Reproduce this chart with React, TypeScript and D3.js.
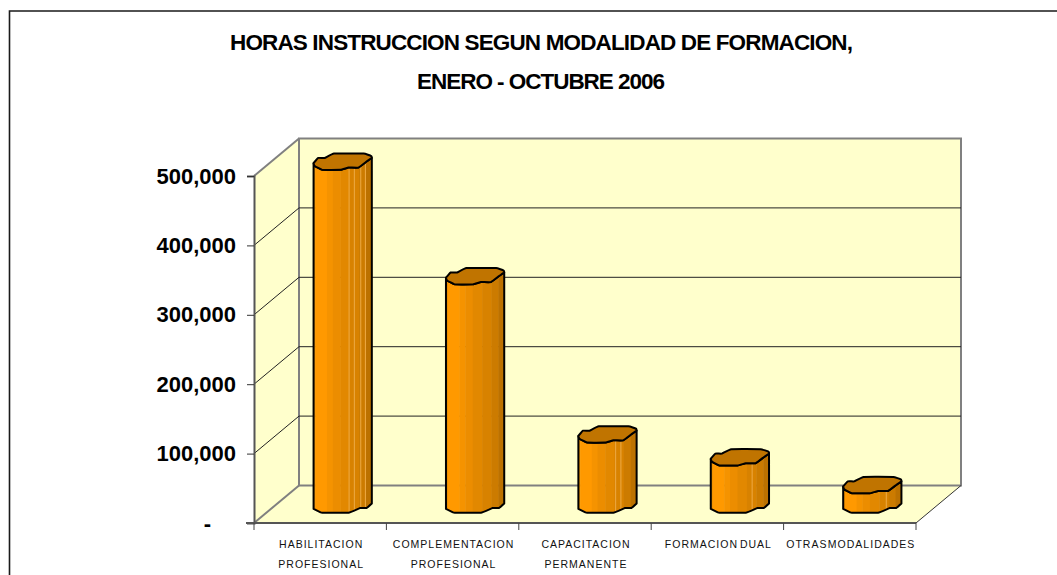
import { useEffect, useRef } from "react";
import * as d3 from "d3";

const categories = [
  "HABILITACION PROFESIONAL",
  "COMPLEMENTACION PROFESIONAL",
  "CAPACITACION PERMANENTE",
  "FORMACION DUAL",
  "OTRAS MODALIDADES",
];
const categoryLines = [
  ["HABILITACION", "PROFESIONAL"],
  ["COMPLEMENTACION", "PROFESIONAL"],
  ["CAPACITACION", "PERMANENTE"],
  ["FORMACION DUAL"],
  ["OTRAS MODALIDADES"],
];
const hours = [494000, 329000, 101000, 68000, 28000];
const yTicks = [0, 100000, 200000, 300000, 400000, 500000];
const titleLines = ["HORAS INSTRUCCION SEGUN MODALIDAD DE FORMACION,", "ENERO - OCTUBRE 2006"];

// cap outline of the hand-cut cylinder: [across bar 0-1, front to back 0-1]
const capFront: [number, number][] = [
  [0, 0.41], [0.02, 0.24], [0.15, 0], [0.46, 0], [0.6, 0.14], [0.77, 0.14], [0.91, 0.51], [1, 0.73],
];
const capBack: [number, number][] = [[0.99, 0.85], [0.86, 1], [0.35, 1], [0.19, 0.73], [0.08, 0.73]];
// the foot of the bar is a little flatter than the cap
const footFront: [number, number][] = [
  [0, 0.23], [0.12, 0.02], [0.15, 0], [0.6, 0], [0.8, 0.29], [0.91, 0.29], [1, 0.57],
];
// vertical shading strips
const stripStops = [0, 0.03, 0.23, 0.33, 0.46, 0.62, 0.78, 0.9, 1];
const stripColors = ["#E48C00", "#FF9900", "#F59300", "#EC8D00", "#E28800", "#D88200", "#CC7B00", "#BC7100"];
// lighter seams between the strips, per bar
const seams = [[0.61, 0.7, 0.81, 0.89], [], [0.64, 0.73], [0.71], [0.74]];

const width = 1057;
const height = 575;
const front = { left: 254, right: 916, top: 176, bottom: 523 };
const depth = { x: 45, y: 37.5 };

export default function App() {
  const svgRef = useRef<SVGSVGElement>(null);

  useEffect(() => {
    if (!svgRef.current) return;
    const svg = d3.select(svgRef.current);
    svg.selectAll("*").remove();

    const x = d3.scaleBand<string>().domain(categories).range([front.left, front.right]);
    const y = d3.scaleLinear().domain([0, 500000]).range([front.bottom, front.top]);

    const barWidth = x.bandwidth() * 0.44;
    const capDepth = 16.3;
    const baseY = front.bottom - 10.3;
    const line = d3.line();
    const edge = d3.line().curve(d3.curveCardinal.tension(0.75));
    const ring = d3.line().curve(d3.curveCardinalClosed.tension(0.75));

    // frame, runs off the page on the right and bottom
    svg.append("path")
      .attr("d", `M${width + 5},11 H9.5 V${height + 5}`)
      .attr("fill", "none")
      .attr("stroke", "#1a1a1a")
      .attr("stroke-width", 1.6);

    // Title
    titleLines.forEach((t, i) => {
      svg.append("text")
        .attr("x", i === 0 ? 541.5 : 541)
        .attr("y", i === 0 ? 50 : 89)
        .attr("text-anchor", "middle")
        .attr("font-family", "Liberation Sans")
        .attr("font-weight", "700")
        .attr("font-size", 22.5)
        .attr("textLength", i === 0 ? 623 : 248)
        .attr("lengthAdjust", "spacing")
        .attr("fill", "#000")
        .text(t);
    });

    // Walls and floor
    const wallFill = "#FFFFCC";
    const backTop = y(500000) - depth.y;
    const backBottom = y(0) - depth.y;
    const backLeft = front.left + depth.x;
    const backRight = front.right + depth.x;
    svg.append("path")
      .attr("d", line([[front.left, y(0)], [backLeft, backBottom], [backLeft, backTop], [front.left, y(500000)]]))
      .attr("fill", wallFill);
    svg.append("path")
      .attr("d", line([[front.left, y(0)], [front.right, y(0)], [backRight, backBottom], [backLeft, backBottom]]))
      .attr("fill", wallFill);
    svg.append("rect")
      .attr("x", backLeft)
      .attr("y", backTop)
      .attr("width", backRight - backLeft)
      .attr("height", backBottom - backTop)
      .attr("fill", wallFill)
      .attr("stroke", "#808080")
      .attr("stroke-width", 2);

    // Grid Lines
    yTicks.slice(1, -1).forEach(t => {
      svg.append("path")
        .attr("d", line([[front.left, y(t)], [backLeft, y(t) - depth.y], [backRight, y(t) - depth.y]]))
        .attr("fill", "none")
        .attr("stroke", "#222")
        .attr("stroke-width", 1);
    });
    svg.append("path")
      .attr("d", line([[front.left, y(500000)], [backLeft, backTop]]))
      .attr("stroke", "#808080")
      .attr("stroke-width", 2);
    svg.append("path")
      .attr("d", line([[front.left, y(0)], [backLeft, backBottom]]))
      .attr("stroke", "#808080")
      .attr("stroke-width", 2);
    svg.append("path")
      .attr("d", line([[front.right, y(0)], [backRight, backBottom]]))
      .attr("stroke", "#333")
      .attr("stroke-width", 1);

    // Y Axis
    const yAxis = svg.append("g")
      .attr("transform", `translate(${front.left},0)`)
      .call(d3.axisLeft(y).tickValues(yTicks).tickSize(7).tickPadding(11)
        .tickFormat(d => (+d === 0 ? "-" : d3.format(",")(+d))));
    yAxis.select(".domain").attr("stroke", "#555").attr("stroke-width", 2);
    yAxis.selectAll(".tick line").attr("stroke", "#333").attr("stroke-width", 1);
    yAxis.selectAll("text")
      .attr("font-family", "Liberation Sans")
      .attr("font-weight", "700")
      .attr("font-size", 22)
      .attr("fill", "#000");
    yAxis.selectAll<SVGTextElement, number>(".tick text")
      .filter(d => d === 0)
      .attr("x", -43);

    // X Axis
    const xEdges = categories.map(c => x(c)!).concat(front.right);
    const xAxisLine = svg.append("g");
    xAxisLine.append("line")
      .attr("x1", front.left - 8)
      .attr("x2", front.right)
      .attr("y1", y(0))
      .attr("y2", y(0))
      .attr("stroke", "#555")
      .attr("stroke-width", 2);
    xAxisLine.selectAll("line.tick")
      .data(xEdges)
      .join("line")
      .attr("class", "tick")
      .attr("x1", d => d)
      .attr("x2", d => d)
      .attr("y1", y(0))
      .attr("y2", y(0) + 7)
      .attr("stroke", "#444");

    categories.forEach((c, i) => {
      categoryLines[i].forEach((t, j) => {
        svg.append("text")
          .attr("x", x(c)! + x.bandwidth() / 2 + 1)
          .attr("y", 548 + j * 20)
          .attr("text-anchor", "middle")
          .attr("font-family", "Liberation Sans")
          .attr("font-size", 10.5)
          .attr("letter-spacing", 1)
          .attr("word-spacing", i === 4 ? -3.5 : -2)
          .attr("fill", "#111")
          .text(t);
      });
    });

    // Bars
    categories.forEach((c, i) => {
      const left = x(c)! + x.bandwidth() / 2 + depth.x / 2 - barWidth / 2;
      const topY = baseY - (y(0) - y(hours[i]));
      const at = (yBase: number) => ([u, v]: [number, number]): [number, number] =>
        [left + u * barWidth, yBase - v * capDepth];

      const topEdge = edge(capFront.map(at(topY))) ?? "";
      const bottomEdge = edge(footFront.map(at(baseY)).reverse()) ?? "";
      const sidePath = `${topEdge}L${bottomEdge.slice(1)}Z`;
      const capPath = ring(capFront.concat(capBack).map(at(topY))) ?? "";

      const clipId = `bar-clip-${i}`;
      svg.append("clipPath").attr("id", clipId).append("path").attr("d", sidePath);
      const strips = svg.append("g").attr("clip-path", `url(#${clipId})`);
      stripColors.forEach((color, k) => {
        strips.append("rect")
          .attr("x", left + stripStops[k] * barWidth)
          .attr("width", (stripStops[k + 1] - stripStops[k]) * barWidth + 0.5)
          .attr("y", topY - capDepth)
          .attr("height", baseY - topY + capDepth + 1)
          .attr("fill", color);
      });
      seams[i].forEach(u => {
        strips.append("line")
          .attr("x1", left + u * barWidth)
          .attr("x2", left + u * barWidth)
          .attr("y1", topY - capDepth)
          .attr("y2", baseY + 1)
          .attr("stroke", "#EDAA45")
          .attr("stroke-width", 1);
      });
      svg.append("path")
        .attr("d", sidePath)
        .attr("fill", "none")
        .attr("stroke", "#000")
        .attr("stroke-width", 2)
        .attr("stroke-linejoin", "round");
      svg.append("path")
        .attr("d", capPath)
        .attr("fill", "#C07400")
        .attr("stroke", "#000")
        .attr("stroke-width", 2)
        .attr("stroke-linejoin", "round");
    });
  }, []);

  return (
    <svg
      ref={svgRef}
      width={width}
      height={height}
      viewBox={`0 0 ${width} ${height}`}
      style={{ position: "absolute", left: 0, top: 0, background: "#fff" }}
    />
  );
}
